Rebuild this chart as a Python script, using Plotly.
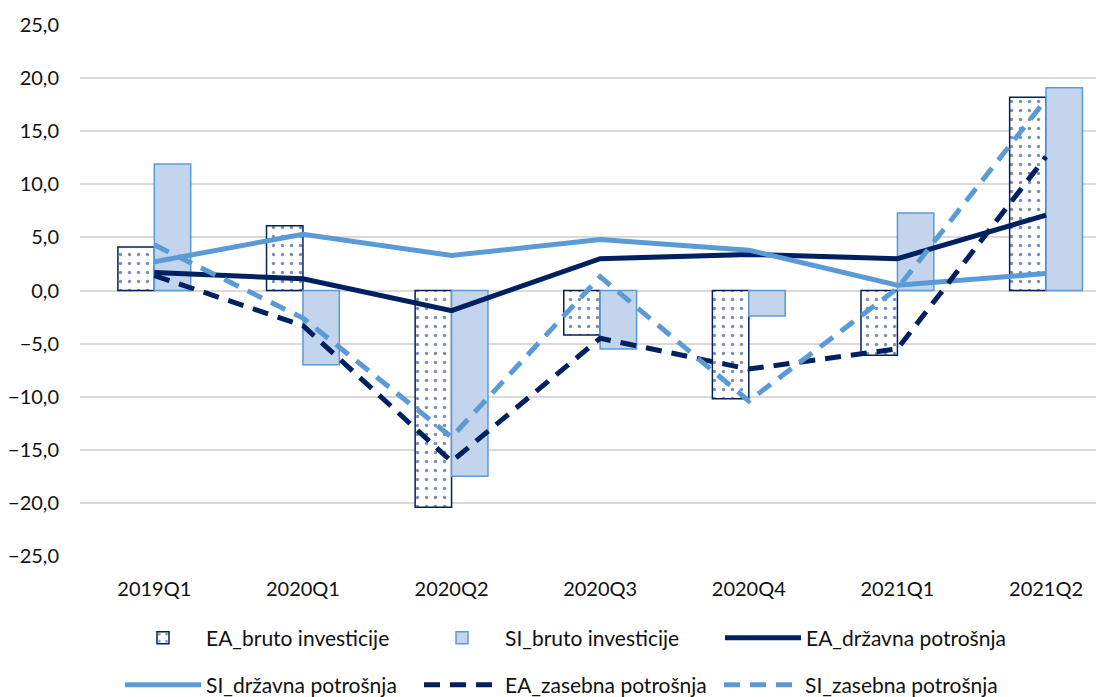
import plotly.graph_objects as go

categories = ["2019Q1", "2020Q1", "2020Q2", "2020Q3", "2020Q4", "2021Q1", "2021Q2"]
ea_bruto = [4.1, 6.1, -20.4, -4.2, -10.2, -6.1, 18.2]
si_bruto = [11.9, -7.0, -17.5, -5.5, -2.4, 7.3, 19.1]
ea_drzavna = [1.7, 1.1, -1.9, 3.0, 3.4, 3.0, 7.1]
si_drzavna = [2.7, 5.3, 3.3, 4.8, 3.8, 0.5, 1.6]
ea_zasebna = [1.4, -3.3, -16.1, -4.5, -7.4, -5.5, 12.6]
si_zasebna = [4.3, -2.6, -13.8, 1.3, -10.4, 0.2, 18.0]

NAVY = "#002060"
LBLUE = "#5B9BD5"
FILL = "#C3D4ED"
FONT = "Lato"
TXT = "#111111"

# page has an 8px body margin; figure is sized so it fills the 1104x697 window
W, H = 1096, 689
OFF = 8

x = list(range(len(categories)))

fig = go.Figure()
fig.add_trace(go.Bar(
    x=x, y=ea_bruto, name="EA_bruto investicije", legend="legend", showlegend=True,
    marker=dict(color="white", line=dict(color=NAVY, width=1.5),
                pattern=dict(shape=".", fgcolor=NAVY, bgcolor="white", size=9, solidity=0.12)),
))
fig.add_trace(go.Bar(
    x=x, y=si_bruto, name="SI_bruto investicije", legend="legend2", showlegend=True,
    marker=dict(color=FILL, line=dict(color=LBLUE, width=1.5)),
))
fig.add_trace(go.Scatter(
    x=x, y=ea_drzavna, name="EA_državna potrošnja", mode="lines", legend="legend3", showlegend=True,
    line=dict(color=NAVY, width=5),
))
fig.add_trace(go.Scatter(
    x=x, y=si_drzavna, name="SI_državna potrošnja", mode="lines", legend="legend4", showlegend=True,
    line=dict(color=LBLUE, width=5),
))
fig.add_trace(go.Scatter(
    x=x, y=ea_zasebna, name="EA_zasebna potrošnja", mode="lines", legend="legend5", showlegend=True,
    line=dict(color=NAVY, width=5, dash="16px,10px"),
))
fig.add_trace(go.Scatter(
    x=x, y=si_zasebna, name="SI_zasebna potrošnja", mode="lines", legend="legend6", showlegend=True,
    line=dict(color=LBLUE, width=5, dash="16px,10px"),
))

ITEMW = 76


def leg(text_x_page, y_page):
    lx = text_x_page - (ITEMW + 10) - OFF
    ly = y_page - OFF
    return dict(
        orientation="h", xref="container", yref="container", xanchor="left", yanchor="middle",
        x=lx / W, y=1 - ly / H,
        font=dict(family=FONT, size=21, color=TXT), itemwidth=ITEMW,
        bgcolor="rgba(0,0,0,0)", borderwidth=0, itemclick=False, itemdoubleclick=False,
    )


fig.update_layout(
    width=W, height=H,
    showlegend=True,
    margin=dict(l=80 - OFF, r=0, t=25 - OFF, b=H - (556 - OFF)),
    paper_bgcolor="white", plot_bgcolor="white",
    separators=",.",
    barmode="group", bargap=0.51, bargroupgap=0,
    font=dict(family=FONT, size=20, color=TXT),
    legend=leg(206, 638),
    legend2=leg(505, 638),
    legend3=leg(806, 638),
    legend4=leg(206, 685),
    legend5=leg(505, 685),
    legend6=leg(805, 685),
    xaxis=dict(
        tickmode="array", tickvals=x, ticktext=categories,
        range=[-0.5, 6.39], showgrid=False, zeroline=False, showline=False,
        ticks="", ticklabelstandoff=19,
        tickfont=dict(family=FONT, size=20, color=TXT),
    ),
    yaxis=dict(
        range=[-25, 25], dtick=5, tick0=0, tickformat=".1f",
        showgrid=True, gridcolor="#D9D9D9", gridwidth=1.5,
        zeroline=False, showline=False, ticks="", ticklabelstandoff=20,
        tickfont=dict(family=FONT, size=20, color=TXT),
    ),
)

fig.write_html("out.html")
